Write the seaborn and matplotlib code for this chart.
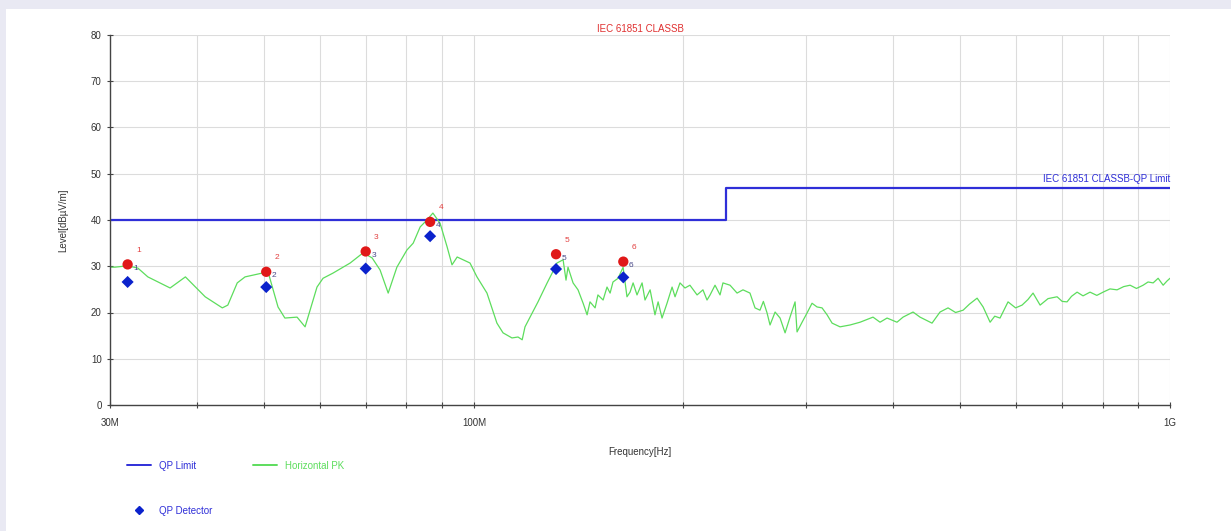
import matplotlib
matplotlib.use("Agg")
import matplotlib.pyplot as plt
from matplotlib.lines import Line2D
from matplotlib.patches import Rectangle
from matplotlib.ticker import FixedLocator, NullFormatter
import seaborn as sns

# green trace (Horizontal PK), frequency in MHz, level in dBuV/m
pk_freq = [30.0, 30.5, 31.8, 32.9, 34.0, 36.6, 38.5, 41.1, 43.5, 44.3, 45.7, 46.9,
           49.6, 50.6, 52.3, 53.5, 55.7, 57.2, 59.5, 60.7, 62.7, 66.4, 69.3, 71.4,
           73.3, 75.3, 77.5, 80.1, 81.8, 83.7, 85.6, 87.3, 89.4, 91.5, 93.0, 94.6,
           96.5, 98.7, 101.0, 104.4, 107.9, 110.1, 113.4, 115.7, 117.3, 118.4, 120.4,
           123.6, 127.4, 129.5, 131.6, 134.3, 135.6, 136.5, 138.8, 141.1, 143.5,
           145.4, 146.8, 149.3, 150.7, 153.3, 155.3, 156.9, 158.4, 161.1, 163.8,
           165.9, 167.6, 169.3, 171.5, 174.4, 176.1, 179.1, 182.0, 183.9, 186.3,
           189.4, 192.6, 194.5, 197.7, 201.0, 204.3, 209.2, 213.3, 216.2, 218.4,
           222.0, 225.7, 227.9, 233.3, 238.8, 243.5, 249.2, 253.4, 257.6, 260.5,
           263.7, 266.3, 270.8, 275.3, 279.9, 284.5, 289.3, 291.2, 296.1, 301.0,
           306.0, 311.1, 316.3, 321.6, 327.0, 335.7, 347.0, 358.7, 374.4, 383.2,
           392.2, 405.3, 413.5, 427.4, 437.4, 455.1, 467.3, 479.9, 492.0, 504.4,
           515.0, 528.3, 538.9, 551.5, 560.0, 569.9, 585.2, 600.0, 613.0, 625.0,
           635.7, 650.7, 668.0, 688.3, 700.0, 711.4, 722.0, 735.4, 750.0, 767.6,
           785.0, 801.4, 820.0, 839.4, 858.0, 876.3, 895.0, 914.9, 930.0, 945.8,
           961.5, 977.6, 990.0, 1000.0]
pk_level = [29.8, 29.8, 30.1, 29.6, 27.7, 25.3, 27.7, 23.4, 21.0, 21.6, 26.4, 27.7,
            28.5, 28.8, 21.2, 18.8, 19.0, 16.9, 25.5, 27.4, 28.5, 30.7, 32.9, 31.8,
            29.2, 24.2, 29.8, 33.5, 35.0, 38.5, 40.0, 41.5, 39.3, 34.2, 30.3, 32.0,
            31.4, 30.7, 27.7, 24.2, 17.7, 15.6, 14.5, 14.7, 14.1, 16.9, 19.0,
            22.3, 26.4, 28.5, 30.7, 31.4, 27.0, 29.8, 26.4, 24.9, 22.0,
            19.5, 22.3, 21.0, 23.8, 22.7, 25.5, 24.2, 26.6, 27.4, 29.8,
            23.4, 24.4, 26.4, 23.8, 26.4, 22.7, 24.9, 19.5, 22.3, 18.8,
            22.0, 25.5, 23.4, 26.4, 25.3, 25.9, 23.8, 24.9, 22.7, 23.8,
            25.9, 23.8, 26.4, 25.9, 24.2, 24.9, 24.2, 21.0, 20.5, 22.4,
            19.9, 17.3, 20.1, 18.8, 15.6, 19.0, 22.3, 15.8, 17.9, 19.9,
            22.0, 21.2, 21.0, 19.5, 17.7, 16.9, 17.3, 17.9, 19.0, 17.9,
            18.8, 17.9, 19.0, 20.1, 19.0, 17.7, 20.1, 21.0, 20.0, 20.5,
            21.8, 23.1, 21.2, 17.9, 19.2, 18.8, 22.3, 21.0, 21.6, 22.8,
            24.2, 21.6, 23.0, 23.4, 22.4, 22.3, 23.5, 24.4, 23.6, 24.4,
            23.7, 24.4, 25.1, 24.9, 25.6, 25.9, 25.2, 25.9, 26.6, 26.4,
            27.4, 25.9, 26.8, 27.4]

# QP limit line
limit_freq = [30, 230, 230, 1000]
limit_level = [40, 40, 47, 47]

# markers: peak (red) and QP detector (blue)
mark_freq = [31.8, 50.3, 69.9, 86.5, 131.2, 163.9]
peak_level = [30.4, 28.8, 33.2, 39.6, 32.6, 31.0]
qp_level = [26.6, 25.5, 29.5, 36.5, 29.4, 27.6]
mark_names = ["1", "2", "3", "4", "5", "6"]

sns.set_style("white")
plt.rcParams["font.family"] = ["Liberation Sans", "DejaVu Sans"]

fig = plt.figure(figsize=(12.31, 5.31), dpi=100, facecolor="#e9e9f3")
fig.patches.append(Rectangle((6 / 1231, 0), 1, 1 - 9 / 531, transform=fig.transFigure,
                             facecolor="white", edgecolor="none", zorder=-1))
ax = fig.add_axes([110 / 1231, 1 - 405 / 531, 1060 / 1231, 370 / 531])
ax.set_facecolor("white")

green = "#5ddd5d"
blue = "#2f2fd8"

sns.lineplot(x=limit_freq, y=limit_level, estimator=None, sort=False, color=blue,
             lw=1.6, ax=ax)
sns.lineplot(x=pk_freq, y=pk_level, estimator=None, sort=False, color=green,
             lw=0.9, ax=ax)
sns.scatterplot(x=mark_freq, y=peak_level, marker="o", color="#e01818", s=55,
                edgecolor="none", zorder=5, ax=ax)
sns.scatterplot(x=mark_freq, y=qp_level, marker="D", color="#0b22cc", s=38,
                edgecolor="none", zorder=5, ax=ax)

for f, p, name in zip(mark_freq, peak_level, mark_names):
    ax.annotate(name, (f, p), xytext=(6, 9), textcoords="offset points",
                fontsize=6, color="#e24040")
    ax.annotate(name, (f, p), xytext=(4, -4), textcoords="offset points",
                fontsize=6, color="#4a4a8a")

ax.set_xscale("log")
ax.set_xlim(30, 1000)
ax.set_ylim(0, 80)

major = [30, 100, 1000]
minor = [40, 50, 60, 70, 80, 90, 200, 300, 400, 500, 600, 700, 800, 900]
ax.xaxis.set_major_locator(FixedLocator(major))
ax.set_xticklabels(["30M", "100M", "1G"])
ax.xaxis.set_minor_locator(FixedLocator(minor))
ax.xaxis.set_minor_formatter(NullFormatter())
ax.set_yticks(range(0, 81, 10))

ax.grid(True, which="both", color="#dcdcdc", lw=0.8)
ax.tick_params(axis="both", which="both", direction="inout", length=5, width=0.8,
               color="#444444", labelsize=7, labelcolor="#333333", left=True, bottom=True)
ax.tick_params(axis="x", which="major", pad=6.5)
for side in ["top", "right"]:
    ax.spines[side].set_visible(False)
for side in ["left", "bottom"]:
    ax.spines[side].set_color("#444444")
    ax.spines[side].set_linewidth(1.0)

ax.set_xlabel("Frequency[Hz]", fontsize=7, color="#333333", labelpad=14)
ax.set_ylabel("Level[dBµV/m]", fontsize=7, color="#333333", labelpad=16)
ax.set_title("IEC 61851 CLASSB", fontsize=7, color="#e03030", pad=2)
ax.text(1000, 47.8, "IEC 61851 CLASSB-QP Limit", ha="right", va="bottom",
        fontsize=7, color=blue)

handles = [Line2D([], [], color=blue, lw=1.4),
           Line2D([], [], color="#0b22cc", marker="D", ls="none", markersize=4),
           Line2D([], [], color=green, lw=1.4)]
leg = fig.legend(handles, ["QP Limit", "QP Detector", "Horizontal PK"], ncol=2,
                 loc="upper left", bbox_to_anchor=(118 / 1231, 1 - 452 / 531),
                 frameon=False, fontsize=7, handlelength=2.5, columnspacing=4.2,
                 labelspacing=3.6)
for txt, col in zip(leg.get_texts(), [blue, blue, green]):
    txt.set_color(col)

fig.savefig("out.png", dpi=100, facecolor=fig.get_facecolor())
